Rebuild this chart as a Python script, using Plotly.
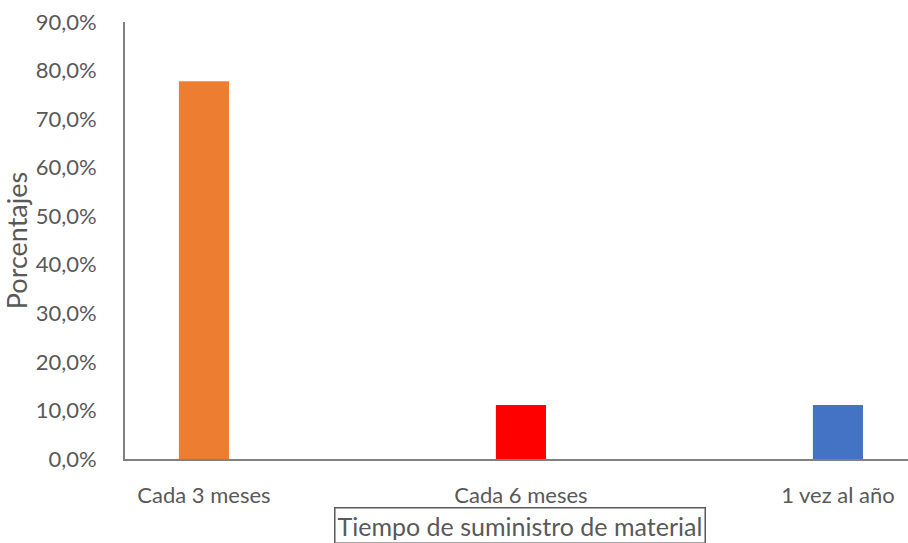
import plotly.graph_objects as go

# Supply frequency survey results
categories = ["Cada 3 meses", "Cada 6 meses", "1 vez al año"]
percentages = [0.778, 0.111, 0.111]
bar_colors = ["#ED7D31", "#FF0000", "#4472C4"]
y_ticks = [0, 0.1, 0.2, 0.3, 0.4, 0.5, 0.6, 0.7, 0.8, 0.9]

axis_gray = "#595959"
font_family = "Lato, 'Open Sans', sans-serif"

fig = go.Figure(
    go.Bar(
        x=[0, 1, 2],
        y=percentages,
        marker=dict(color=bar_colors, line=dict(width=0)),
        width=0.158,
    )
)

fig.update_layout(
    width=908,
    height=543,
    margin=dict(l=125, r=0, t=22, b=84),
    plot_bgcolor="white",
    paper_bgcolor="white",
    separators=",.",
    showlegend=False,
    font=dict(family=font_family, color=axis_gray, size=22),
    xaxis=dict(
        range=[-0.249, 2.221],
        tickmode="array",
        tickvals=[0, 1, 2],
        ticktext=categories,
        showgrid=False,
        zeroline=False,
        showline=True,
        linecolor="#808080",
        linewidth=2,
        ticks="",
        ticklen=0,
        ticklabelstandoff=16,
        tickfont=dict(size=22, color=axis_gray),
        fixedrange=True,
    ),
    yaxis=dict(
        range=[0, 0.9],
        tickmode="array",
        tickvals=y_ticks,
        tickformat=".1%",
        showgrid=False,
        zeroline=False,
        showline=True,
        linecolor="#808080",
        linewidth=2,
        ticks="",
        ticklabelstandoff=22,
        tickfont=dict(size=22, color=axis_gray),
        title=dict(text="Porcentajes", font=dict(size=27, color=axis_gray), standoff=8),
        fixedrange=True,
    ),
    annotations=[
        dict(
            text="Tiempo de suministro de material",
            xref="x",
            yref="paper",
            x=0.997,
            y=-0.1098,
            xanchor="center",
            yanchor="top",
            showarrow=False,
            font=dict(size=25, color=axis_gray),
            bordercolor="#595959",
            borderwidth=1.5,
            borderpad=2,
            bgcolor="white",
        )
    ],
)

fig.write_html("out.html")
